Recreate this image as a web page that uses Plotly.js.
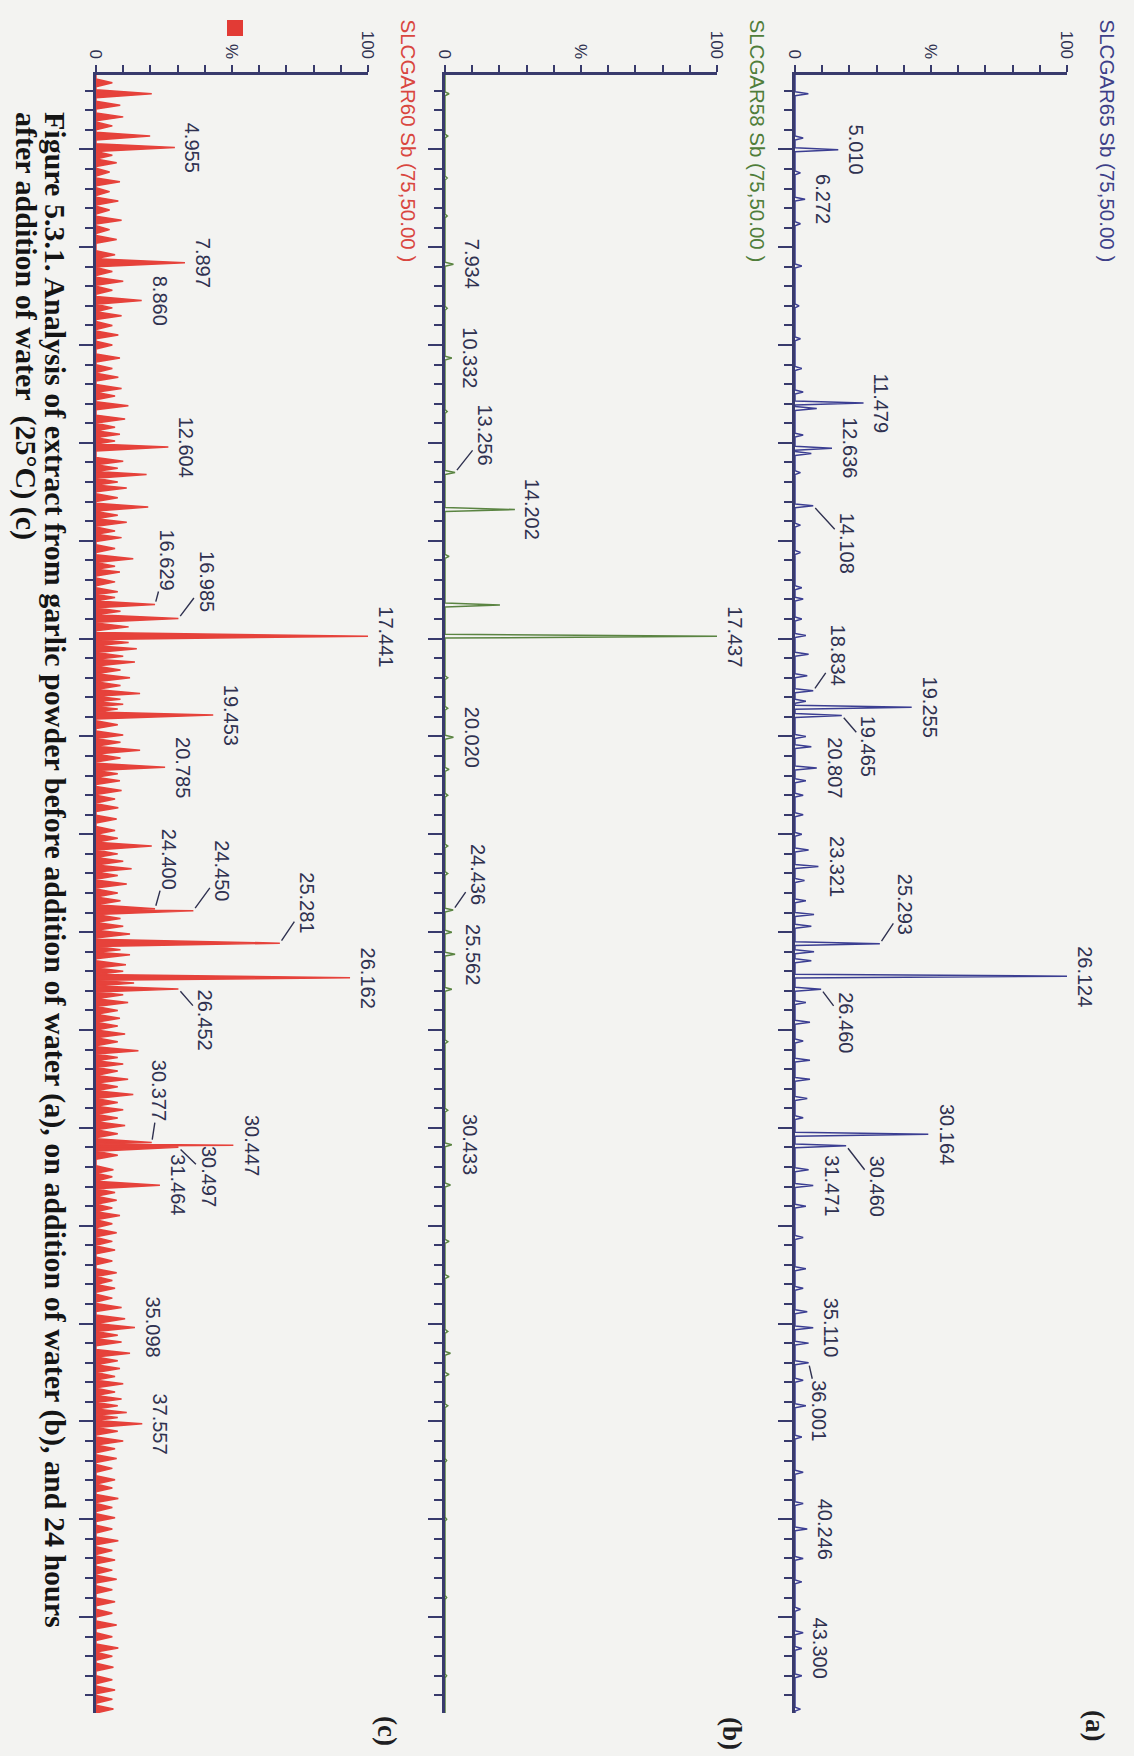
<!DOCTYPE html>
<html><head><meta charset="utf-8">
<script src="https://cdn.plot.ly/plotly-3.0.1.min.js"></script>
<style>html,body{margin:0;padding:0;background:#f3f3f1}#chart{width:1134px;height:1756px}</style>
</head><body><div id="chart"></div>
<script>
// ================= DATA =================
// Panel (a) SLCGAR65 – retention time (min) and relative intensity (%)
const timeA = [3.58, 4.71, 5.010, 5.60, 6.272, 6.90, 7.98, 9.00, 9.84, 10.60,
  11.20, 11.479, 11.62, 12.30, 12.636, 12.77, 13.26, 14.108, 14.60, 15.30,
  16.20, 16.49, 17.00, 17.42, 17.90, 18.45, 18.834, 19.10, 19.255, 19.465,
  20.00, 20.26, 20.807, 21.13, 21.50, 22.00, 22.50, 22.90, 23.321, 23.68,
  24.20, 24.55, 24.85, 25.293, 25.50, 25.73, 26.124, 26.460, 26.80, 27.30,
  27.78, 28.27, 28.76, 29.25, 29.74, 30.164, 30.460, 31.07, 31.471, 32.00,
  32.80, 33.60, 34.10, 34.70, 35.110, 35.50, 36.001, 36.45, 37.10, 37.90,
  38.80, 39.60, 40.246, 41.00, 41.60, 42.30, 42.90, 43.300, 44.00, 44.85];
const intA = [4.9, 3, 15.9, 2, 3.7, 2, 2.5, 1.5, 2, 2.5,
  3, 25.2, 8, 3, 13.6, 6, 2, 6.7, 2, 2,
  2.5, 3, 2.5, 4, 5, 4.5, 6.7, 4, 42.9, 17.2,
  4, 6, 8, 4, 3, 3, 2.5, 5, 8.6, 3.5,
  4, 7, 6, 31.2, 7, 6, 100, 9.6, 4, 5.5,
  3, 5.5, 5.5, 4.5, 3, 49, 18.8, 5, 6.7, 4,
  3, 4, 3, 4.5, 6.7, 5, 5, 3, 4, 2.5,
  3, 3, 4.5, 3, 2.5, 2, 3, 2.5, 2.5, 2];
const labelsA = ['5.010','6.272','11.479','12.636','14.108','18.834','19.255','19.465','20.807','23.321',
  '25.293','26.124','26.460','30.164','30.460','31.471','35.110','36.001','40.246','43.300'];

// Panel (b) SLCGAR58
const timeB = [3.58, 4.66, 5.73, 6.70, 7.934, 9.06, 10.332, 11.70, 13.256, 14.202,
  15.40, 16.64, 17.437, 18.50, 19.28, 20.020, 20.84, 21.50, 22.80, 23.50,
  24.436, 25.00, 25.562, 26.46, 27.80, 29.55, 30.433, 31.46, 32.90, 33.80,
  35.20, 35.76, 36.30, 37.10, 38.50, 40.00, 42.00, 44.00];
const intB = [1.5, 1, 0.8, 0.8, 3.1, 0.8, 2.5, 0.8, 3.7, 25.7,
  1.5, 20.2, 100, 1, 1, 3.1, 1.5, 1, 1, 1,
  3, 2.5, 3.7, 2.5, 1, 1, 2.5, 2, 1.5, 1.5,
  1, 2, 1.5, 1, 0.6, 0.6, 0.6, 0.6];
const labelsB = ['7.934','10.332','13.256','14.202','17.437','20.020','24.436','25.562','30.433'];

// Panel (c) SLCGAR60
const timeC = [3.30, 3.58, 3.87, 4.17, 4.40, 4.66, 4.955, 5.15, 5.34, 5.58,
  5.83, 6.08, 6.32, 6.55, 6.81, 7.05, 7.30, 7.69, 7.897, 8.12,
  8.37, 8.60, 8.860, 9.05, 9.25, 9.50, 9.74, 10.00, 10.33, 10.60,
  10.82, 11.11, 11.30, 11.55, 11.89, 12.10, 12.28, 12.45, 12.604, 12.97,
  13.15, 13.31, 13.50, 13.65, 13.90, 14.14, 14.35, 14.53, 14.75, 14.92,
  15.20, 15.46, 15.65, 15.80, 16.05, 16.30, 16.45, 16.629, 16.80, 16.985,
  17.20, 17.441, 17.60, 17.76, 17.95, 18.10, 18.30, 18.50, 18.70, 18.90,
  19.05, 19.18, 19.30, 19.453, 19.70, 19.96, 20.15, 20.35, 20.55, 20.785,
  20.95, 21.13, 21.38, 21.60, 21.82, 22.11, 22.40, 22.60, 22.80, 23.00,
  23.19, 23.38, 23.55, 23.77, 24.00, 24.20, 24.400, 24.450, 24.65, 24.85,
  25.05, 25.281, 25.45, 25.58, 25.83, 26.00, 26.162, 26.30, 26.452, 26.60,
  26.80, 27.00, 27.20, 27.40, 27.60, 27.80, 28.03, 28.20, 28.37, 28.55,
  28.76, 28.95, 29.15, 29.35, 29.54, 29.75, 29.94, 30.15, 30.377, 30.447,
  30.497, 30.70, 31.07, 31.25, 31.464, 31.65, 31.85, 32.05, 32.24, 32.45,
  32.68, 32.90, 33.12, 33.40, 33.70, 33.90, 34.10, 34.35, 34.59, 34.88,
  35.098, 35.30, 35.47, 35.76, 35.95, 36.15, 36.35, 36.54, 36.75, 36.93,
  37.10, 37.27, 37.40, 37.557, 37.75, 38.00, 38.20, 38.45, 38.70, 38.99,
  39.20, 39.47, 39.70, 39.96, 40.25, 40.55, 40.80, 41.04, 41.30, 41.53,
  41.80, 42.11, 42.40, 42.70, 43.00, 43.29, 43.50, 43.78, 44.10, 44.36,
  44.60, 44.85];
const intC = [6, 20.5, 8.9, 10, 6, 19.9, 29, 6, 7.6, 5,
  8.8, 5, 8.2, 5, 9.4, 5, 7.6, 7, 32.7, 6,
  10, 6, 16.8, 6, 9.4, 6, 8.2, 6, 8.8, 6,
  8.2, 9.4, 7, 11.9, 10.7, 7, 8.8, 7, 26.6, 10,
  8, 18.6, 8, 11.3, 8, 19.2, 8, 11.3, 7, 9.4,
  7, 13.7, 7, 8.8, 7, 8, 7, 21.7, 9, 30.3,
  12, 100, 12, 15, 10, 14.3, 9, 12.5, 9, 16.2,
  9, 10, 8, 43.1, 8, 10, 9, 16.2, 9, 25.4,
  8, 8.8, 9.4, 7, 8.2, 7.6, 7, 8, 20.5, 8,
  10, 13.1, 8, 11.3, 8, 9, 21.7, 35.8, 9, 10,
  12.5, 67.6, 9, 12.5, 11, 10, 93.4, 14, 30.3, 10,
  11.8, 8, 8.8, 8, 10.7, 8, 15.6, 8, 10, 8,
  11.8, 8, 13.7, 8, 10, 8, 10.7, 8, 20.5, 50.5,
  30.3, 8, 6.4, 6, 23.5, 7, 7.6, 6, 8.8, 6,
  7.6, 6, 7, 6, 7.6, 6, 7, 6, 9.4, 10.7,
  14.3, 8, 9.4, 12.5, 8, 8.8, 7, 10, 7, 9.4,
  8, 11.3, 8, 17, 8, 10, 7, 7.6, 6, 7,
  6, 8.2, 6, 7, 6, 8.2, 6, 7, 6, 7.6,
  6, 7, 6, 7.6, 6, 8.2, 6, 6.4, 6, 7,
  6, 6.4];
const labelsC = ['4.955','7.897','8.860','12.604','16.629','16.985','17.441','19.453','20.785','24.400',
  '24.450','25.281','26.162','26.452','30.377','30.447','30.497','31.464','35.098','37.557'];

const traceNames = ['SLCGAR60 Sb (75,50.00 )', 'SLCGAR58 Sb (75,50.00 )', 'SLCGAR65 Sb (75,50.00 )'];
const panelTags = ['(c)', '(b)', '(a)'];
const intTickVals = [0, 10, 20, 30, 40, 50, 60, 70, 80, 90, 100];
const intTickText = ['0', '', '', '', '', '%', '', '', '', '', '100'];
const captionLines = [
  'Figure 5.3.1. Analysis of extract from garlic powder before addition of water (a), on addition of water (b), and 24 hours',
  'after addition of water\u00a0 (25°C) (c)'
];

// ================= STYLE / LAYOUT =================
const W = 1134, H = 1756;
const yTop = 75, yBot = 1713;
const tRange = [44.95, 3.1];
const axisColor = '#383a6c';
const labelColor = '#2f3150';
const sans = 'Liberation Sans, Arial, sans-serif';
const serif = 'Liberation Serif, Times New Roman, serif';

// leader-line label offsets (pixels, text centre relative to peak apex)
const leadersA = {'14.108':[34,37],'18.834':[25,-36],'19.465':[27,31],'25.293':[26,-39],'26.460':[25,33],'30.460':[31,40],'36.001':[11,48]};
const leadersB = {'13.256':[30,-38],'24.436':[25,-36]};
const leadersC = {'16.629':[12,-45],'16.985':[28,-37],'24.400':[14,-50],'24.450':[29,-40],'25.281':[27,-40],'26.452':[27,31],'30.377':[8,-52],'30.497':[30,29]};

const panels = [
  {times: timeC, ints: intC, labels: labelsC, leaders: leadersC, color: '#e6423b', titleColor: '#d9463f', px: [96, 368], titleX: 408, tagX: 387, tagY: 1731, w: 0.1, fill: true},
  {times: timeB, ints: intB, labels: labelsB, leaders: leadersB, color: '#5a8442', titleColor: '#4f7d3a', px: [445, 717], titleX: 757, tagX: 732, tagY: 1733, w: 0.05, fill: false},
  {times: timeA, ints: intA, labels: labelsA, leaders: leadersA, color: '#3b3e92', titleColor: '#3d3f88', px: [795, 1067], titleX: 1107, tagX: 1095, tagY: 1725, w: 0.05, fill: false}
];

function peakLine(times, ints, w) {
  const xs = [0], ys = [tRange[1]];
  for (let i = 0; i < times.length; i++) {
    const t = times[i];
    const wl = i > 0 ? Math.min(w, (t - times[i - 1]) / 2) : w;
    const wr = i < times.length - 1 ? Math.min(w, (times[i + 1] - t) / 2) : w;
    ys.push(t - wl, t, t + wr);
    xs.push(0, ints[i], 0);
  }
  xs.push(0); ys.push(tRange[0]);
  return {xs, ys};
}

const traces = [];
const annotations = [];
const layout = {
  width: W, height: H,
  margin: {l: 0, r: 0, t: 0, b: 0},
  paper_bgcolor: '#f3f3f1', plot_bgcolor: 'rgba(0,0,0,0)',
  showlegend: false,
  font: {family: sans, color: labelColor},
  shapes: [{type: 'rect', xref: 'paper', yref: 'paper',
    x0: 227 / W, x1: 243 / W, y0: 1 - 36 / H, y1: 1 - 20 / H,
    fillcolor: '#e23b35', line: {width: 0}}]
};

panels.forEach((p, i) => {
  const sfx = i === 0 ? '' : String(i + 1);
  const xa = 'x' + sfx, ya = 'y' + sfx;
  const line = peakLine(p.times, p.ints, p.w);
  traces.push({
    type: 'scatter', mode: 'lines', x: line.xs, y: line.ys, xaxis: xa, yaxis: ya,
    line: {color: p.color, width: 1.5}, fill: p.fill ? 'tozerox' : 'none',
    fillcolor: p.color, hoverinfo: 'skip'
  });
  layout['xaxis' + sfx] = {
    domain: [p.px[0] / W, p.px[1] / W], anchor: ya, side: 'top', range: [0, 100],
    showline: true, linecolor: axisColor, linewidth: 3, mirror: false,
    ticks: 'outside', ticklen: 7, tickwidth: 2, tickcolor: axisColor,
    tickmode: 'array', tickvals: intTickVals, ticktext: intTickText, tickangle: 90,
    tickfont: {size: 17, color: labelColor, family: sans},
    showgrid: false, zeroline: false, fixedrange: true
  };
  layout['yaxis' + sfx] = {
    domain: [1 - yBot / H, 1 - yTop / H], anchor: xa, side: 'left', range: tRange,
    showline: true, linecolor: axisColor, linewidth: 3.5,
    ticks: 'outside', tick0: 0, dtick: 2.5, ticklen: 14, tickwidth: 2, tickcolor: axisColor,
    minor: {ticks: 'outside', tick0: 0, dtick: 0.5, ticklen: 8, tickwidth: 2, tickcolor: axisColor, showgrid: false},
    showticklabels: false, showgrid: false, zeroline: false, fixedrange: true
  };
  // trace title
  annotations.push({xref: 'paper', yref: 'paper', x: p.titleX / W, y: 1 - 17 / H,
    xanchor: 'center', yanchor: 'top', textangle: 90, showarrow: false,
    text: traceNames[i], font: {size: 20.5, color: p.titleColor, family: sans}});
  // panel tag
  annotations.push({xref: 'paper', yref: 'paper', x: p.tagX / W, y: 1 - p.tagY / H,
    xanchor: 'center', yanchor: 'middle', textangle: 90, showarrow: false,
    text: '<b>' + panelTags[i] + '</b>', font: {size: 27, color: '#1e1e22', family: serif}});
  // peak labels
  p.labels.forEach(lab => {
    const t = parseFloat(lab);
    const k = p.times.findIndex(v => Math.abs(v - t) < 1e-6);
    const h = p.ints[k];
    const off = p.leaders[lab];
    if (off) {
      annotations.push({x: h, y: t, xref: xa, yref: ya, text: lab, textangle: 90,
        showarrow: true, arrowhead: 0, arrowwidth: 1.4, arrowcolor: labelColor,
        ax: off[0], ay: off[1], standoff: 3, xanchor: 'center', yanchor: 'middle',
        font: {size: 20, color: labelColor, family: sans}});
    } else {
      annotations.push({x: h, y: t, xref: xa, yref: ya, text: lab, textangle: 90,
        showarrow: false, xanchor: 'left', yanchor: 'middle', xshift: 5,
        font: {size: 20, color: labelColor, family: sans}});
    }
  });
});

// caption
const capX = [55, 26];
captionLines.forEach((c, j) => {
  annotations.push({xref: 'paper', yref: 'paper', x: capX[j] / W, y: 1 - 110 / H,
    xanchor: 'center', yanchor: 'top', textangle: 90, showarrow: false,
    text: '<b>' + c + '</b>', font: {size: 30, color: '#151515', family: serif}});
});

layout.annotations = annotations;
Plotly.newPlot('chart', traces, layout, {displayModeBar: false, staticPlot: true});
</script>
</body></html>
